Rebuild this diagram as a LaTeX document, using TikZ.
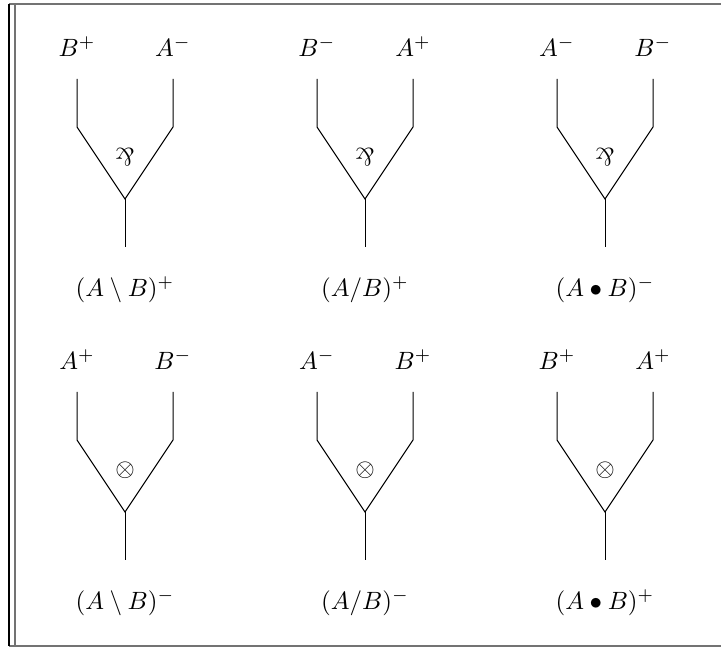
\documentclass[tikz,border=0pt]{standalone}
\usepackage{amsmath,amssymb}
\usepackage{graphicx}
\usepackage{tikz}
\newcommand{\parrsym}{\mathbin{\rotatebox[origin=c]{180}{$\&$}}}

\begin{document}
\begin{tikzpicture}[
  x=0.4pt,y=-0.4pt,
  wire/.style={line width=0.4pt},
  lab/.style={inner sep=1pt},
  edge/.style={draw=black!55,line width=0.8pt},
  inner/.style={draw=black,line width=0.45pt}
]
\useasboundingbox (0,0) rectangle (721,650);
% frame
\draw[edge] (9,4) -- (721,4);
\draw[edge] (9,646) -- (721,646);
\draw[inner] (9,4) -- (9,646);
\draw[edge] (14.5,4) -- (14.5,646);
% the six links
\foreach \cx/\ty/\lt/\rt/\op/\res [count=\i] in {
  125/79/{B^+}/{A^-}/{\parrsym}/{(A\setminus B)^+},
  365/79/{B^-}/{A^+}/{\parrsym}/{(A/B)^+},
  605/79/{A^-}/{B^-}/{\parrsym}/{(A\bullet B)^-},
  125/392/{A^+}/{B^-}/{\otimes}/{(A\setminus B)^-},
  365/392/{A^-}/{B^+}/{\otimes}/{(A/B)^-},
  605/392/{B^+}/{A^+}/{\otimes}/{(A\bullet B)^+}}{
  \node[lab] (lt\i) at (\cx-48,\ty-32) {$\lt$};
  \node[lab] (rt\i) at (\cx+48,\ty-32) {$\rt$};
  \node[lab] (op\i) at (\cx,\ty+78) {$\op$};
  \node[lab] (res\i) at (\cx,\ty+211) {$\res$};
  \coordinate (ltop\i) at (\cx-48,\ty);
  \coordinate (lbend\i) at (\cx-48,\ty+48);
  \coordinate (rtop\i) at (\cx+48,\ty);
  \coordinate (rbend\i) at (\cx+48,\ty+48);
  \coordinate (apex\i) at (\cx,\ty+120);
  \coordinate (stem\i) at (\cx,\ty+168);
  \draw[wire] (ltop\i) -- (lbend\i) -- (apex\i) -- (rbend\i) -- (rtop\i);
  \draw[wire] (apex\i) -- (stem\i);
}
\end{tikzpicture}
\end{document}
